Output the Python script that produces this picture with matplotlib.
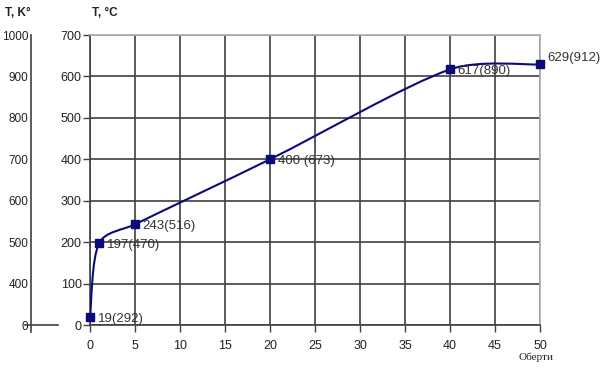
import numpy as np
import matplotlib
matplotlib.use('Agg')
import matplotlib.pyplot as plt
from matplotlib.path import Path
from matplotlib.patches import PathPatch

# Données
oberty = [0, 1, 5, 20, 40, 50]
temp_c = [19, 197, 243, 400, 617, 629]
temp_k = [292, 470, 516, 673, 890, 912]
etiquettes = ['19(292)', '197(470)', '243(516)', '400 (673)', '617(890)', '629(912)']
x_ticks = [0, 5, 10, 15, 20, 25, 30, 35, 40, 45, 50]
y_ticks_c = [0, 100, 200, 300, 400, 500, 600, 700]
y_ticks_k = ['0', '400', '500', '600', '700', '800', '900', '1000']

plt.rcParams['font.family'] = ['Liberation Sans', 'DejaVu Sans']
couleur = '#0a0a78'
gris = '#404040'

W, H = 604, 367
fig = plt.figure(figsize=(W / 100, H / 100), dpi=100)
ax = fig.add_axes([90 / W, 1 - 325 / H, 450 / W, 290 / H])

ax.set_xlim(0, 50)
ax.set_ylim(0, 700)
ax.set_xticks(x_ticks)
ax.set_yticks(y_ticks_c)
ax.grid(True, color=gris, linewidth=1.2)
ax.tick_params(axis='both', colors=gris, labelcolor='#222222', labelsize=9,
               length=5, width=1)
ax.tick_params(axis='x', pad=6)
ax.tick_params(axis='y', pad=1)
for s in ['left', 'bottom']:
    ax.spines[s].set_color(gris)
    ax.spines[s].set_linewidth(1.2)
for s in ['top', 'right']:
    ax.spines[s].set_color('#b0b0b0')
    ax.spines[s].set_linewidth(1.2)

# Ligne lissée (style Excel) : Bézier calculée en pixels, poignées limitées
pts = ax.transData.transform(np.column_stack([oberty, temp_c]).astype(float))
n = len(pts)
verts = [pts[0]]
codes = [Path.MOVETO]
for i in range(n - 1):
    p0 = pts[i - 1] if i > 0 else pts[i]
    p1 = pts[i]
    p2 = pts[i + 1]
    p3 = pts[i + 2] if i + 2 < n else pts[i + 1]
    seg = np.linalg.norm(p2 - p1) / 3
    h1 = (p2 - p0) / 6
    h2 = (p3 - p1) / 6
    h1 = h1 * min(1, seg / max(np.linalg.norm(h1), 1e-9))
    h2 = h2 * min(1, seg / max(np.linalg.norm(h2), 1e-9))
    verts += [p1 + h1, p2 - h2, p2]
    codes += [Path.CURVE4] * 3
verts = ax.transData.inverted().transform(np.array(verts))
ax.add_patch(PathPatch(Path(verts, codes), facecolor='none', edgecolor=couleur,
                       linewidth=1.5, zorder=3))
ax.plot(oberty, temp_c, linestyle='none', marker='s', markersize=6,
        color=couleur, zorder=4, clip_on=False)

for i, (x, y, t) in enumerate(zip(oberty, temp_c, etiquettes)):
    dy = 4.5 if i == len(oberty) - 1 else -1
    dx = 5 if i == len(oberty) - 1 else 5.5
    ax.annotate(t, (x, y), xytext=(dx, dy), textcoords='offset points',
                fontsize=9.5, color='#333333', va='center', ha='left',
                annotation_clip=False)

ax.text(0.952, -0.095, 'Оберти', transform=ax.transAxes, fontsize=8,
        family='Liberation Serif', color='#222222', ha='left', va='top')
fig.text(92 / W, 1 - 13 / H, 'T, °C', fontsize=8.5, fontweight='bold',
         color='#222222', va='center')
fig.text(5 / W, 1 - 13 / H, 'T, K°', fontsize=8.5, fontweight='bold',
         color='#222222', va='center')

# Axe secondaire en Kelvin
ax2 = fig.add_axes([31 / W, 1 - 325 / H, 27 / W, 290 / H])
ax2.set_ylim(0, 700)
ax2.set_xlim(0, 1)
ax2.set_yticks(y_ticks_c)
ax2.set_yticklabels(y_ticks_k)
ax2.set_xticks([])
ax2.patch.set_visible(False)
for s in ['top', 'right', 'bottom']:
    ax2.spines[s].set_visible(False)
ax2.spines['left'].set_color(gris)
ax2.spines['left'].set_linewidth(1.2)
ax2.spines['left'].set_bounds(-18, 700)
ax2.tick_params(axis='y', length=0, pad=2, labelsize=8.5, labelcolor='#222222')
ax2.plot([-0.22, 1], [0, 0], color=gris, linewidth=1.2, clip_on=False)

fig.savefig('out.png', dpi=100)
